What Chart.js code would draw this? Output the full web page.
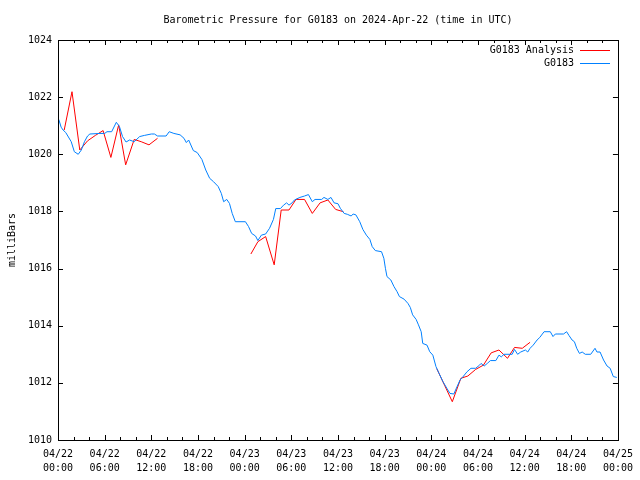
<!DOCTYPE html>
<html>
<head>
<meta charset="utf-8">
<title>Barometric Pressure for G0183</title>
<script src="https://cdn.jsdelivr.net/npm/chart.js@4.4.1/dist/chart.umd.min.js"></script>
<style>
  html, body { margin: 0; padding: 0; background: #fff; }
  #wrap { width: 640px; height: 480px; }
</style>
</head>
<body>
<div id="wrap"><canvas id="pressureChart" width="640" height="480"></canvas></div>
<script>
// Hours since 04/22 00:00 UTC and pressure in milliBars
const stationHours = [
  0.1, 0.4, 0.65, 1.0, 1.7, 2.1, 2.6, 3.0, 3.4, 3.8, 4.1, 5.4, 6.0, 6.3, 6.9, 7.5, 7.9, 8.3, 8.75, 9.2,
  9.8, 10.5, 11.1, 12.0, 12.4, 12.8, 13.9, 14.3, 14.9, 15.7, 16.2, 16.5, 16.8, 17.4, 17.9, 18.5, 19.0, 19.5, 20.0, 20.6,
  21.0, 21.3, 21.7, 22.05, 22.4, 22.8, 24.1, 24.5, 24.9, 25.4, 25.7, 26.15, 26.7, 27.2, 27.7, 28.0, 28.6, 29.0, 29.4, 29.7,
  30.1, 30.4, 31.1, 31.7, 32.2, 32.7, 33.05, 33.9, 34.2, 34.7, 35.1, 35.5, 36.0, 36.3, 36.8, 37.2, 37.7, 37.95, 38.3, 38.8,
  39.2, 39.65, 40.1, 40.4, 40.8, 41.6, 41.9, 42.1, 42.3, 42.8, 43.2, 43.6, 43.9, 44.5, 45.0, 45.3, 45.6, 46.05, 46.35, 46.7,
  46.9, 47.45, 47.8, 48.2, 48.6, 49.0, 49.5, 50.0, 50.4, 50.9, 51.3, 51.7, 52.0, 52.6, 53.1, 53.7, 54.2, 54.4, 54.8, 55.2,
  55.6, 56.3, 56.7, 57.0, 57.35, 58.4, 58.7, 59.1, 59.5, 60.1, 60.4, 60.7, 61.1, 61.6, 61.95, 62.5, 63.3, 63.65, 63.95, 65.0,
  65.4, 65.7, 66.1, 66.4, 66.7, 67.05, 67.4, 67.8, 68.5, 69.05, 69.3, 69.7, 70.15, 70.6, 71.0, 71.4, 71.85
];
const stationPressure = [
  1021.22, 1020.95, 1020.85, 1020.76, 1020.44, 1020.09, 1020.00, 1020.15, 1020.44, 1020.64, 1020.71, 1020.73, 1020.73, 1020.79, 1020.79, 1021.12, 1020.97, 1020.62, 1020.43, 1020.50,
  1020.44, 1020.62, 1020.66, 1020.71, 1020.71, 1020.64, 1020.64, 1020.79, 1020.73, 1020.68, 1020.56, 1020.41, 1020.50, 1020.13, 1020.06, 1019.82, 1019.45, 1019.16, 1019.04, 1018.87,
  1018.63, 1018.34, 1018.42, 1018.28, 1017.93, 1017.64, 1017.64, 1017.47, 1017.23, 1017.14, 1016.98, 1017.17, 1017.21, 1017.41, 1017.72, 1018.10, 1018.10, 1018.22, 1018.30, 1018.22,
  1018.30, 1018.40, 1018.49, 1018.54, 1018.59, 1018.34, 1018.42, 1018.42, 1018.49, 1018.42, 1018.49, 1018.30, 1018.27, 1018.11, 1017.93, 1017.90, 1017.84, 1017.91, 1017.88, 1017.64,
  1017.37, 1017.17, 1017.02, 1016.77, 1016.63, 1016.59, 1016.36, 1016.01, 1015.72, 1015.60, 1015.37, 1015.19, 1015.02, 1014.93, 1014.78, 1014.64, 1014.38, 1014.22, 1014.03, 1013.79,
  1013.38, 1013.32, 1013.09, 1012.97, 1012.57, 1012.33, 1012.04, 1011.81, 1011.63, 1011.61, 1011.86, 1012.10, 1012.19, 1012.39, 1012.51, 1012.51, 1012.62, 1012.68, 1012.59, 1012.68,
  1012.78, 1012.78, 1012.97, 1012.91, 1013.00, 1013.00, 1013.17, 1013.00, 1013.08, 1013.15, 1013.08, 1013.21, 1013.32, 1013.50, 1013.59, 1013.79, 1013.79, 1013.62, 1013.71, 1013.71,
  1013.79, 1013.66, 1013.50, 1013.44, 1013.21, 1013.03, 1013.08, 1013.00, 1013.00, 1013.21, 1013.08, 1013.08, 1012.80, 1012.59, 1012.51, 1012.22, 1012.19
];

// Hourly analysis, null marks a break in the line
const analysisHours = [
  0.8, 1.8, 2.8, 3.8, 4.8, 5.8, 6.8, 7.8, 8.7, 9.8, 10.7, 11.7, 12.8,
  18,
  24.8, 25.7, 26.7, 27.8, 28.7, 29.7, 30.6, 31.7, 32.7, 33.7, 34.7, 35.7, 36.7,
  42,
  48.7, 49.7, 50.7, 51.8, 52.7, 53.7, 54.7, 55.7, 56.7, 57.8, 58.7, 59.7, 60.7
];
const analysisPressure = [
  1020.85, 1022.19, 1020.15, 1020.47, 1020.66, 1020.83, 1019.89, 1021.03, 1019.63, 1020.52, 1020.44, 1020.33, 1020.56,
  null,
  1016.51, 1016.94, 1017.12, 1016.13, 1018.05, 1018.05, 1018.42, 1018.42, 1017.93, 1018.30, 1018.40, 1018.07, 1017.99,
  null,
  1012.50, 1011.92, 1011.34, 1012.16, 1012.24, 1012.47, 1012.62, 1013.05, 1013.15, 1012.86, 1013.24, 1013.21, 1013.42
];

// Axis ticks
const xTickHours = [0, 6, 12, 18, 24, 30, 36, 42, 48, 54, 60, 66, 72];
const xTickLabels = [
  ['04/22', '00:00'], ['04/22', '06:00'], ['04/22', '12:00'], ['04/22', '18:00'],
  ['04/23', '00:00'], ['04/23', '06:00'], ['04/23', '12:00'], ['04/23', '18:00'],
  ['04/24', '00:00'], ['04/24', '06:00'], ['04/24', '12:00'], ['04/24', '18:00'],
  ['04/25', '00:00']
];
const yTicks = [1010, 1012, 1014, 1016, 1018, 1020, 1022, 1024];

const seriesNames = ['G0183 Analysis', 'G0183'];
const seriesColors = ['#ff0000', '#0080ff'];

const FONT = '10px "DejaVu Sans Mono", "Liberation Mono", monospace';

function toPoints(xs, ys) {
  return xs.map((x, i) => ({ x: x, y: ys[i] }));
}

// Gnuplot-ish frame: border box, inward ticks, title, y label and legend
const framePlugin = {
  id: 'frame',
  afterDraw(chart) {
    const ctx = chart.ctx;
    const area = chart.chartArea;
    const xs = chart.scales.x;
    const ys = chart.scales.y;

    ctx.save();
    ctx.strokeStyle = '#000';
    ctx.lineWidth = 1;
    ctx.strokeRect(Math.round(area.left) + 0.5, Math.round(area.top) + 0.5,
      Math.round(area.right - area.left), Math.round(area.bottom - area.top));

    ctx.beginPath();
    // x ticks every 2 hours, longer on labelled ones
    for (let h = 0; h <= 72; h += 2) {
      const px = Math.round(xs.getPixelForValue(h)) + 0.5;
      const len = xTickHours.includes(h) ? 5 : 3;
      ctx.moveTo(px, area.bottom);
      ctx.lineTo(px, area.bottom - len);
      ctx.moveTo(px, area.top);
      ctx.lineTo(px, area.top + len);
    }
    yTicks.forEach(v => {
      const py = Math.round(ys.getPixelForValue(v)) + 0.5;
      ctx.moveTo(area.left, py);
      ctx.lineTo(area.left + 5, py);
      ctx.moveTo(area.right, py);
      ctx.lineTo(area.right - 5, py);
    });
    ctx.stroke();

    ctx.fillStyle = '#000';
    ctx.font = FONT;

    // title
    ctx.textAlign = 'center';
    ctx.textBaseline = 'middle';
    ctx.fillText('Barometric Pressure for G0183 on 2024-Apr-22 (time in UTC)',
      (area.left + area.right) / 2, 20);

    // y axis label
    ctx.save();
    ctx.translate(12, (area.top + area.bottom) / 2);
    ctx.rotate(-Math.PI / 2);
    ctx.fillText('milliBars', 0, 0);
    ctx.restore();

    // legend, text right aligned then line sample
    ctx.textAlign = 'right';
    seriesNames.forEach((name, i) => {
      const y = 50 + i * 13;
      ctx.fillStyle = '#000';
      ctx.fillText(name, 574, y);
      ctx.strokeStyle = seriesColors[i];
      ctx.beginPath();
      ctx.moveTo(580, y + 0.5);
      ctx.lineTo(610, y + 0.5);
      ctx.stroke();
    });
    ctx.restore();
  }
};

const chart = new Chart(document.getElementById('pressureChart'), {
  type: 'line',
  data: {
    datasets: [
      {
        // drawn last so it sits on top of the analysis line
        label: seriesNames[1],
        data: toPoints(stationHours, stationPressure),
        borderColor: seriesColors[1],
        borderWidth: 1,
        pointRadius: 0,
        tension: 0,
        fill: false
      },
      {
        label: seriesNames[0],
        data: toPoints(analysisHours, analysisPressure),
        borderColor: seriesColors[0],
        borderWidth: 1,
        pointRadius: 0,
        tension: 0,
        spanGaps: false,
        fill: false
      }
    ]
  },
  options: {
    responsive: false,
    animation: false,
    events: [],
    layout: { padding: { top: 40, right: 19, left: 0, bottom: 0 } },
    plugins: {
      legend: { display: false },
      title: { display: false },
      tooltip: { enabled: false }
    },
    scales: {
      x: {
        type: 'linear',
        min: 0,
        max: 72,
        afterBuildTicks: axis => {
          axis.ticks = xTickHours.map(v => ({ value: v }));
        },
        afterFit: axis => { axis.height = 40; },
        ticks: {
          autoSkip: false,
          maxRotation: 0,
          padding: 7,
          color: '#000',
          font: { family: '"DejaVu Sans Mono", "Liberation Mono", monospace', size: 10, lineHeight: 1.45 },
          callback: (value) => xTickLabels[xTickHours.indexOf(value)]
        },
        grid: { display: false, drawTicks: false },
        border: { display: false }
      },
      y: {
        min: 1010,
        max: 1024,
        afterBuildTicks: axis => {
          axis.ticks = yTicks.map(v => ({ value: v }));
        },
        afterFit: axis => { axis.width = 58; },
        ticks: {
          padding: 6,
          color: '#000',
          font: { family: '"DejaVu Sans Mono", "Liberation Mono", monospace', size: 10 },
          callback: value => String(value)
        },
        grid: { display: false, drawTicks: false },
        border: { display: false }
      }
    }
  },
  plugins: [framePlugin]
});
</script>
</body>
</html>
